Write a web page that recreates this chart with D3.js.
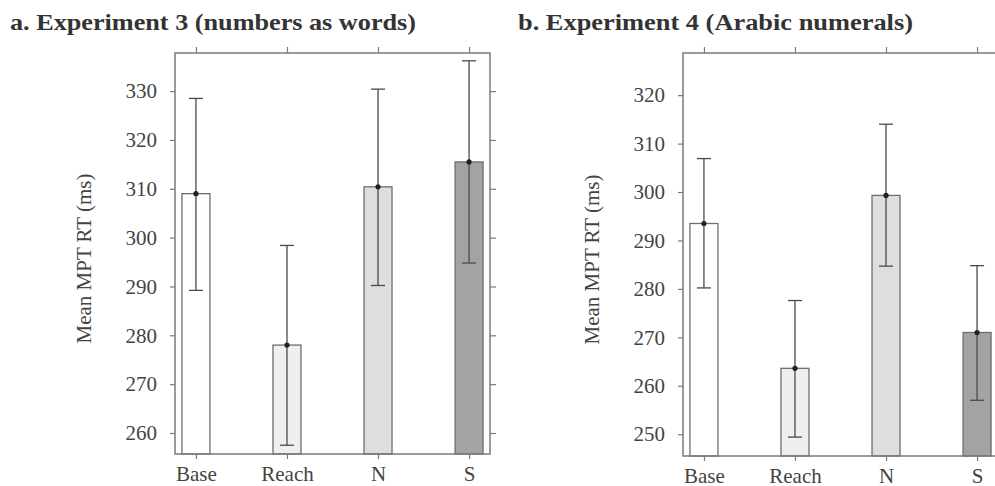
<!DOCTYPE html>
<html>
<head>
<meta charset="utf-8">
<script src="https://cdn.jsdelivr.net/npm/d3@7"></script>
<style>
  html, body { margin: 0; padding: 0; background: #fff; }
  svg { display: block; }
</style>
</head>
<body>
<svg id="chart" width="995" height="486"></svg>
<script>
// ---- data ----
const categories = ["Base", "Reach", "N", "S"];
const titleA = "a. Experiment 3 (numbers as words)";
const titleB = "b. Experiment 4 (Arabic numerals)";
const yLabel = "Mean MPT RT (ms)";

const meansA = [309.0, 278.0, 310.4, 315.5];
const lowA   = [289.2, 257.5, 290.2, 294.8];
const highA  = [328.5, 298.4, 330.4, 336.2];
const ticksA = [260, 270, 280, 290, 300, 310, 320, 330];
const domainA = [255.7, 337.8];

const meansB = [293.5, 263.6, 299.3, 271.0];
const lowB   = [280.2, 249.4, 284.7, 257.0];
const highB  = [306.9, 277.6, 314.0, 284.8];
const ticksB = [250, 260, 270, 280, 290, 300, 310, 320];
const domainB = [245.5, 328.7];

const fills = ["#ffffff", "#efefef", "#dedede", "#a3a3a6"];

// ---- drawing ----
const svg = d3.select("#chart");
const serif = "'Liberation Serif', 'Times New Roman', serif";
const frameColor = "#7a7a7a";
const textColor = "#444";

function panel(opts) {
  const { left, right, top, bottom, means, low, high, ticks, domain, title, titleX, titleW } = opts;
  const g = svg.append("g");
  const x = d3.scalePoint().domain(categories).range([left, right]).padding(0.23);
  const y = d3.scaleLinear().domain(domain).range([bottom, top]);

  // title
  svg.append("text")
    .attr("x", titleX).attr("y", 30)
    .attr("font-family", serif).attr("font-weight", "bold")
    .attr("font-size", 24).attr("fill", "#333")
    .attr("textLength", titleW).attr("lengthAdjust", "spacingAndGlyphs")
    .text(title);

  // bars
  const barW = 28;
  g.selectAll("rect.bar").data(categories).join("rect")
    .attr("class", "bar")
    .attr("x", d => x(d) - barW / 2)
    .attr("width", barW)
    .attr("y", (d, i) => y(means[i]))
    .attr("height", (d, i) => y(domain[0]) - y(means[i]))
    .attr("fill", (d, i) => fills[i])
    .attr("stroke", "#6e6e6e").attr("stroke-width", 1.3);

  // error bars
  const capW = 14;
  const eb = g.selectAll("g.eb").data(categories).join("g").attr("class", "eb");
  eb.append("line")
    .attr("x1", d => x(d)).attr("x2", d => x(d))
    .attr("y1", (d, i) => y(low[i])).attr("y2", (d, i) => y(high[i]))
    .attr("stroke", "#4a4a4a").attr("stroke-width", 1.3);
  eb.append("line")
    .attr("x1", d => x(d) - capW / 2).attr("x2", d => x(d) + capW / 2)
    .attr("y1", (d, i) => y(low[i])).attr("y2", (d, i) => y(low[i]))
    .attr("stroke", "#4a4a4a").attr("stroke-width", 1.3);
  eb.append("line")
    .attr("x1", d => x(d) - capW / 2).attr("x2", d => x(d) + capW / 2)
    .attr("y1", (d, i) => y(high[i])).attr("y2", (d, i) => y(high[i]))
    .attr("stroke", "#4a4a4a").attr("stroke-width", 1.3);
  eb.append("circle")
    .attr("cx", d => x(d)).attr("cy", (d, i) => y(means[i]))
    .attr("r", 2.6).attr("fill", "#222");

  // left axis
  const ax = g.append("g").attr("transform", `translate(${left},0)`)
    .call(d3.axisLeft(y).tickValues(ticks).tickSize(5).tickPadding(13).tickFormat(d3.format("d")));
  ax.select(".domain").remove();
  ax.selectAll("line").attr("stroke", frameColor).attr("stroke-width", 1.2);
  ax.selectAll("text").attr("font-family", serif).attr("font-size", 21).attr("fill", textColor);

  // right axis (ticks only)
  const ar = g.append("g").attr("transform", `translate(${right},0)`)
    .call(d3.axisRight(y).tickValues(ticks).tickSize(6).tickFormat(""));
  ar.select(".domain").remove();
  ar.selectAll("line").attr("stroke", frameColor).attr("stroke-width", 1.2);

  // bottom axis
  const ab = g.append("g").attr("transform", `translate(0,${bottom})`)
    .call(d3.axisBottom(x).tickSize(5));
  ab.select(".domain").remove();
  ab.selectAll("line").attr("stroke", frameColor).attr("stroke-width", 1.2);
  ab.selectAll("text").attr("font-family", serif).attr("font-size", 21).attr("fill", textColor)
    .attr("y", 27).attr("dy", 0);

  // top axis (ticks only)
  const at = g.append("g").attr("transform", `translate(0,${top})`)
    .call(d3.axisTop(x).tickSize(6).tickFormat(""));
  at.select(".domain").remove();
  at.selectAll("line").attr("stroke", frameColor).attr("stroke-width", 1.2);

  // frame
  g.append("rect")
    .attr("x", left).attr("y", top)
    .attr("width", right - left).attr("height", bottom - top)
    .attr("fill", "none").attr("stroke", frameColor).attr("stroke-width", 1.5);

  // y label
  const cy = (top + bottom) / 2 + 5;
  svg.append("text")
    .attr("transform", `translate(${left - 84},${cy}) rotate(-90)`)
    .attr("text-anchor", "middle")
    .attr("font-family", serif).attr("font-size", 21).attr("fill", textColor)
    .text(yLabel);
}

panel({ left: 175, right: 490, top: 53, bottom: 454, means: meansA, low: lowA, high: highA,
        ticks: ticksA, domain: domainA, title: titleA, titleX: 10, titleW: 406 });
panel({ left: 683, right: 998, top: 53, bottom: 456, means: meansB, low: lowB, high: highB,
        ticks: ticksB, domain: domainB, title: titleB, titleX: 518, titleW: 395 });
</script>
</body>
</html>
